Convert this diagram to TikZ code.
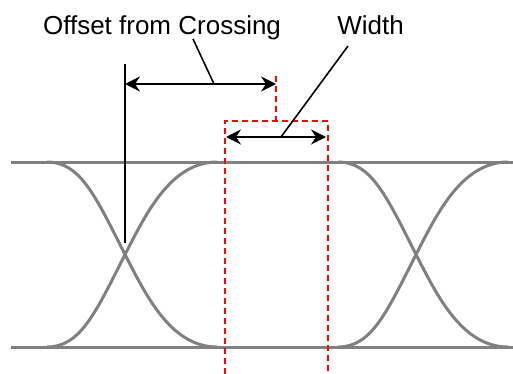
\documentclass[tikz,border=0pt]{standalone}
\usepackage{fontspec}
\setmainfont{Liberation Sans}
\usetikzlibrary{arrows.meta}
\tikzset{
  eye/.style={draw={rgb,255:red,128;green,128;blue,128}, line width=3pt},
  marker/.style={draw={rgb,255:red,255;green,0;blue,0}, line width=1.8pt, dash pattern=on 6pt off 4pt},
  dim/.style={draw=black, line width=2pt, {Stealth[length=15pt,width=15pt,inset=5pt]}-{Stealth[length=15pt,width=15pt,inset=5pt]}},
  leader/.style={draw=black, line width=1.6pt},
  lbl/.style={font=\fontsize{26}{30}\selectfont, inner sep=0pt, anchor=base}
}
\begin{document}
\begin{tikzpicture}[x=1pt,y=-1pt]
\useasboundingbox (0,0) rectangle (513,374);
% eye lines
\coordinate (tl) at (11,162);
\coordinate (tr) at (513,162);
\coordinate (bl) at (11,347);
\coordinate (br) at (513,347);
\draw[eye] (tl) -- (tr);
\draw[eye] (bl) -- (br);
% crossing 1
\draw[eye] (47,162) .. controls (80,162) and (95,195) .. (125,254.5) .. controls (145,293) and (170,347) .. (217,347);
\draw[eye] (47,347) .. controls (80,347) and (95,314) .. (125,254.5) .. controls (145,216) and (170,162) .. (217,162);
% crossing 2
\begin{scope}[xshift=291pt]
\draw[eye] (47,162) .. controls (80,162) and (95,195) .. (125,254.5) .. controls (145,293) and (170,347) .. (217,347);
\draw[eye] (47,347) .. controls (80,347) and (95,314) .. (125,254.5) .. controls (145,216) and (170,162) .. (217,162);
\end{scope}
% red markers
\coordinate (ot) at (276,76);
\coordinate (om) at (276,121);
\coordinate (wl) at (225,121);
\coordinate (wr) at (328,121);
\coordinate (wlb) at (225,374);
\coordinate (wrb) at (328,374);
\draw[marker] (wlb) -- (wl) -- (wr) -- (wrb);
\draw[marker] (ot) -- (om);
% crossing reference line
\coordinate (ct) at (125,64);
\coordinate (cb) at (125,243);
\draw[line width=2pt] (ct) -- (cb);
% dimension arrows
\coordinate (oa) at (125,84);
\coordinate (ob) at (276,84);
\draw[dim] (oa) -- (ob);
\coordinate (wa) at (226,137);
\coordinate (wb) at (326,137);
\draw[dim] (wa) -- (wb);
% labels
\node[lbl] (off) at (162,34.5) {Offset from Crossing};
\node[lbl] (wid) at (370.5,34.5) {Width};
\coordinate (offl) at (193,39);
\coordinate (offa) at (214,84);
\draw[leader] (offl) -- (offa);
\coordinate (widl) at (348,46);
\coordinate (wida) at (281,137);
\draw[leader] (widl) -- (wida);
\end{tikzpicture}
\end{document}
